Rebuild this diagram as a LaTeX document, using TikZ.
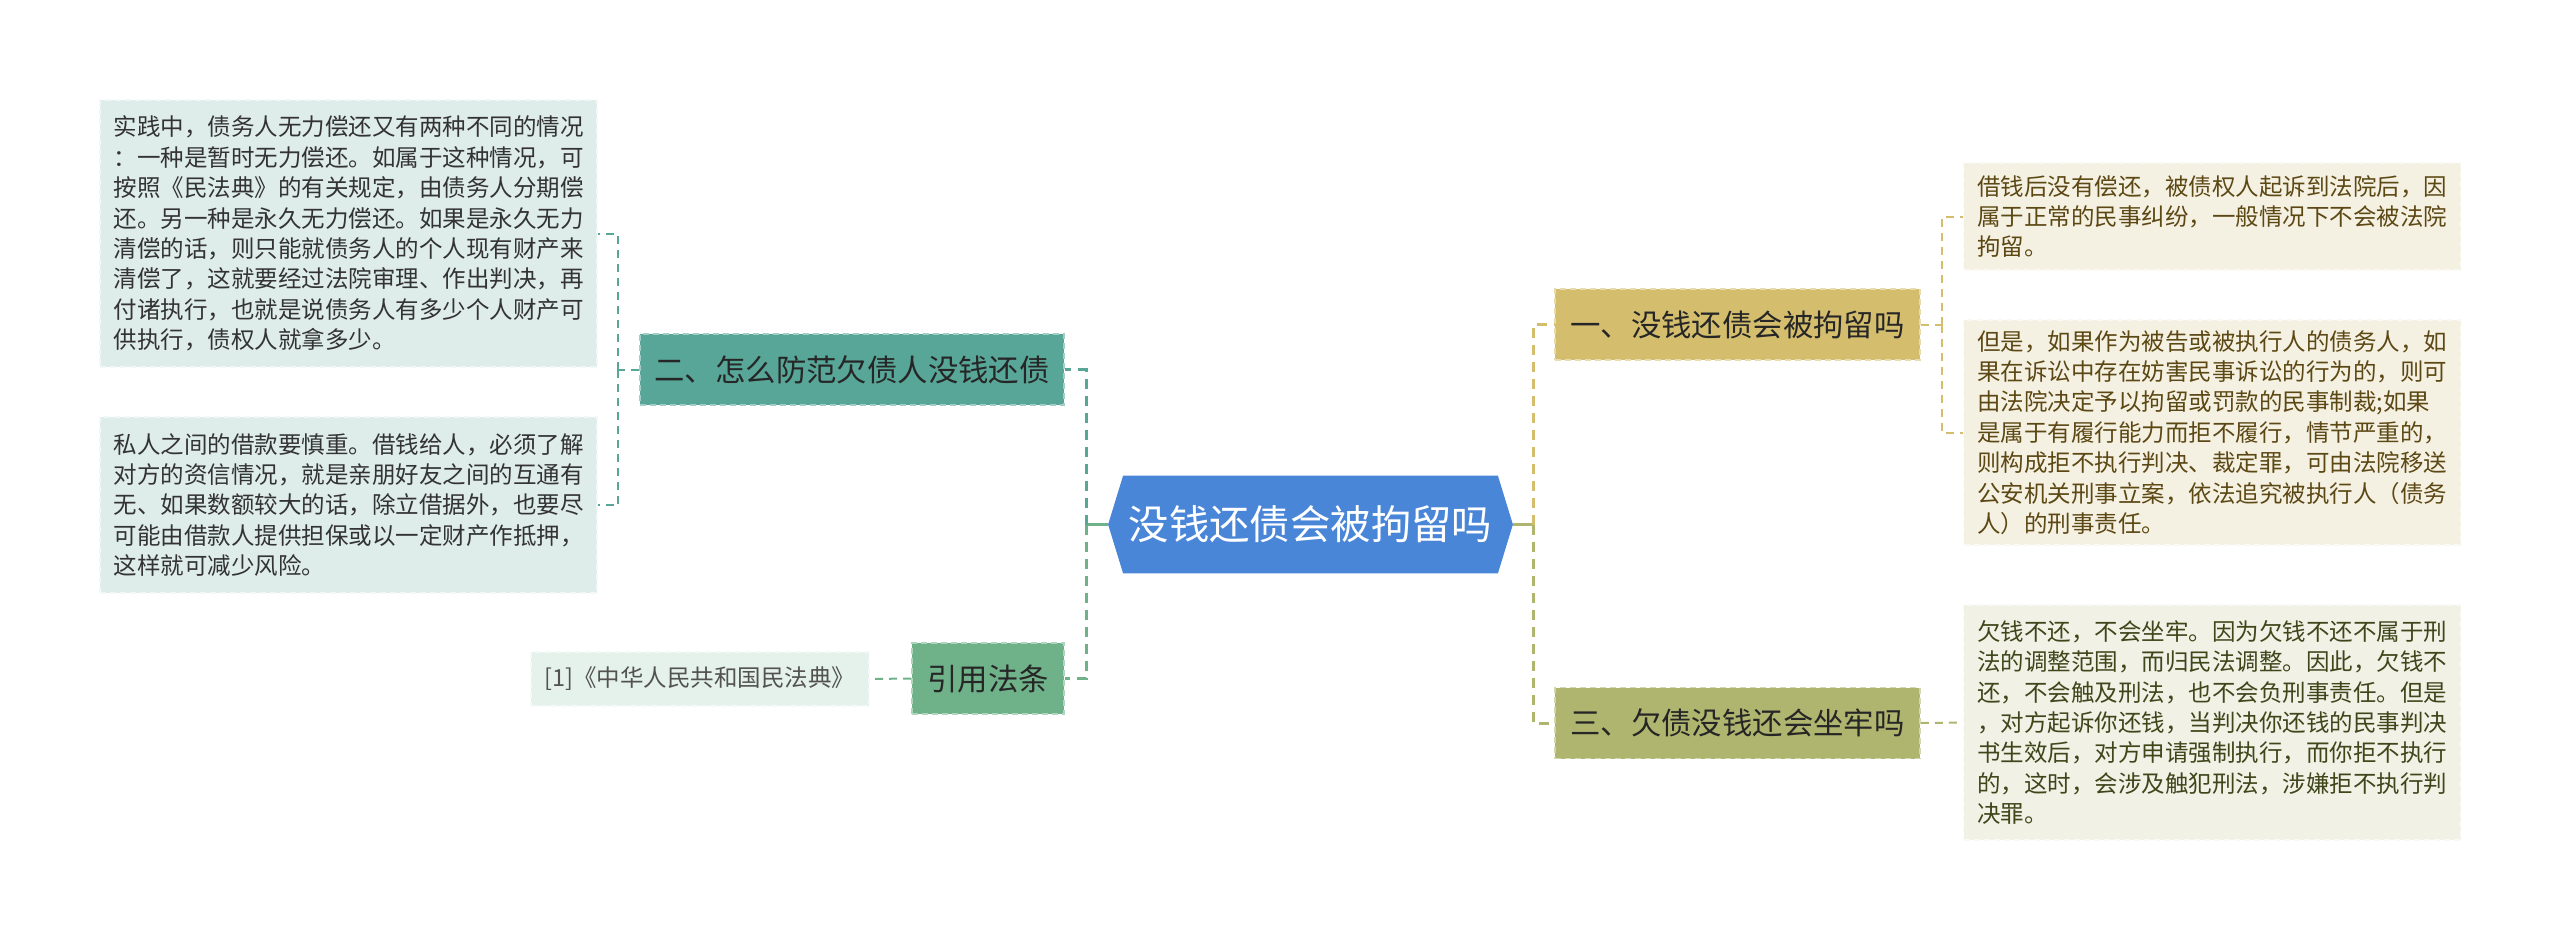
\documentclass[tikz,border=0pt]{standalone}
\usepackage{fontspec}
\newfontfamily\cjkfont{Noto Sans CJK SC}
\usepackage{tikz}
\usetikzlibrary{positioning, backgrounds}
\definecolor{rootblue}{RGB}{74,134,216}
\definecolor{tealbr}{RGB}{88,166,152}
\definecolor{greenbr}{RGB}{111,178,138}
\definecolor{goldbr}{RGB}{212,190,110}
\definecolor{olivebr}{RGB}{175,181,110}
\definecolor{tealleaf}{RGB}{222,236,234}
\definecolor{greenleaf}{RGB}{229,241,235}
\definecolor{goldleaf}{RGB}{245,241,226}
\definecolor{oliveleaf}{RGB}{241,241,230}
\definecolor{leaftext}{RGB}{51,51,51}
\definecolor{goldtext}{RGB}{92,72,20}
\definecolor{olivetext}{RGB}{62,70,26}
\tikzset{
    base/.style={inner sep=0pt, align=center},
    rootbox/.style={base, text=white, minimum width=187pt, minimum height=48.5pt, font=\cjkfont\fontsize{20.2pt}{24pt}\selectfont},
    branch/.style={base, fill=#1, draw=#1!55!white, dash pattern=on 3pt off 2pt, line width=0.8pt, minimum height=35.5pt, text=black!85, font=\cjkfont\fontsize{15.2pt}{19pt}\selectfont},
    leaf/.style={base, align=left, fill=#1, draw=#1!40!white, dash pattern=on 3pt off 2pt, line width=0.8pt, minimum width=248.5pt, font=\cjkfont\fontsize{11.75pt}{15.2pt}\selectfont},
    trunk/.style={line width=1.5pt},
    dashline/.style={line width=1.5pt, dash pattern=on 5pt off 3.5pt},
    thinline/.style={line width=1pt, dash pattern=on 4pt off 3pt}
}
\begin{document}
\begin{tikzpicture}[x=0.5pt, y=-0.5pt]
    \useasboundingbox (0,0) rectangle (2560,943);
    % Nodes
    \node [rootbox] (root) at (1310.5,524.5) {没钱还债会被拘留吗};
    \begin{scope}[on background layer]
        \fill [rootblue] ([xshift=-7.5pt]root.west) -- (root.north west) -- (root.north east)
            -- ([xshift=7.5pt]root.east) -- (root.south east) -- (root.south west) -- cycle;
    \end{scope}
    \coordinate (rootL) at ([xshift=-7.5pt]root.west);
    \coordinate (rootR) at ([xshift=7.5pt]root.east);

    \node [branch=tealbr, minimum width=212pt] (prevent) at (852,369.5) {二、怎么防范欠债人没钱还债};
    \node [branch=greenbr, minimum width=76pt] (cite) at (988,678.5) {引用法条};
    \node [branch=goldbr, minimum width=182.5pt] (detain) at (1737.5,324.5) {一、没钱还债会被拘留吗};
    \node [branch=olivebr, minimum width=182.5pt] (jail) at (1737.5,723) {三、欠债没钱还会坐牢吗};

    \node [leaf=tealleaf, text=leaftext, minimum height=133.5pt] (prevA) at (348.5,233.5) {实践中，债务人无力偿还又有两种不同的情况\\：一种是暂时无力偿还。如属于这种情况，可\\按照《民法典》的有关规定，由债务人分期偿\\还。另一种是永久无力偿还。如果是永久无力\\清偿的话，则只能就债务人的个人现有财产来\\清偿了，这就要经过法院审理、作出判决，再\\付诸执行，也就是说债务人有多少个人财产可\\供执行，债权人就拿多少。};
    \node [leaf=tealleaf, text=leaftext, minimum height=88pt] (prevB) at (348.5,505) {私人之间的借款要慎重。借钱给人，必须了解\\对方的资信情况，就是亲朋好友之间的互通有\\无、如果数额较大的话，除立借据外，也要尽\\可能由借款人提供担保或以一定财产作抵押，\\这样就可减少风险。};
    \node [leaf=greenleaf, align=center, text=leaftext!85, minimum width=169pt, minimum height=27pt] (law) at (700,679) {[1]《中华人民共和国民法典》};
    \node [leaf=goldleaf, text=goldtext, minimum height=53.5pt] (detA) at (2212,216.5) {借钱后没有偿还，被债权人起诉到法院后，因\\属于正常的民事纠纷，一般情况下不会被法院\\拘留。};
    \node [leaf=goldleaf, text=goldtext, minimum height=112.5pt] (detB) at (2212,432.5) {但是，如果作为被告或被执行人的债务人，如\\果在诉讼中存在妨害民事诉讼的行为的，则可\\由法院决定予以拘留或罚款的民事制裁;如果\\是属于有履行能力而拒不履行，情节严重的，\\则构成拒不执行判决、裁定罪，可由法院移送\\公安机关刑事立案，依法追究被执行人（债务\\人）的刑事责任。};
    \node [leaf=oliveleaf, text=olivetext, minimum height=117.5pt] (jailA) at (2212,722.5) {欠钱不还，不会坐牢。因为欠钱不还不属于刑\\法的调整范围，而归民法调整。因此，欠钱不\\还，不会触及刑法，也不会负刑事责任。但是\\，对方起诉你还钱，当判决你还钱的民事判决\\书生效后，对方申请强制执行，而你拒不执行\\的，这时，会涉及触犯刑法，涉嫌拒不执行判\\决罪。};

    \coordinate (jleft) at (1086,524.5);
    \coordinate (jright) at (1533,524.5);
    \coordinate (jprev) at (618,369.5);
    \coordinate (jdet) at (1942,324.5);

    % Connections
    \draw [trunk, greenbr] (rootL) -- (jleft);
    \draw [dashline, tealbr] (jleft) |- (prevent.east);
    \draw [dashline, greenbr] (jleft) |- (cite.east);
    \draw [trunk, olivebr] (rootR) -- (jright);
    \draw [dashline, goldbr] (jright) |- (detain.west);
    \draw [dashline, olivebr] (jright) |- (jail.west);

    \draw [thinline, tealbr] (prevent.west) -- (jprev);
    \draw [thinline, tealbr] (jprev) |- (prevA.east);
    \draw [thinline, tealbr] (jprev) |- (prevB.east);
    \draw [thinline, greenbr] (cite.west) -- (law.east);
    \draw [thinline, goldbr] (detain.east) -- (jdet);
    \draw [thinline, goldbr] (jdet) |- (detA.west);
    \draw [thinline, goldbr] (jdet) |- (detB.west);
    \draw [thinline, olivebr] (jail.east) -- (jailA.west);
\end{tikzpicture}
\end{document}
